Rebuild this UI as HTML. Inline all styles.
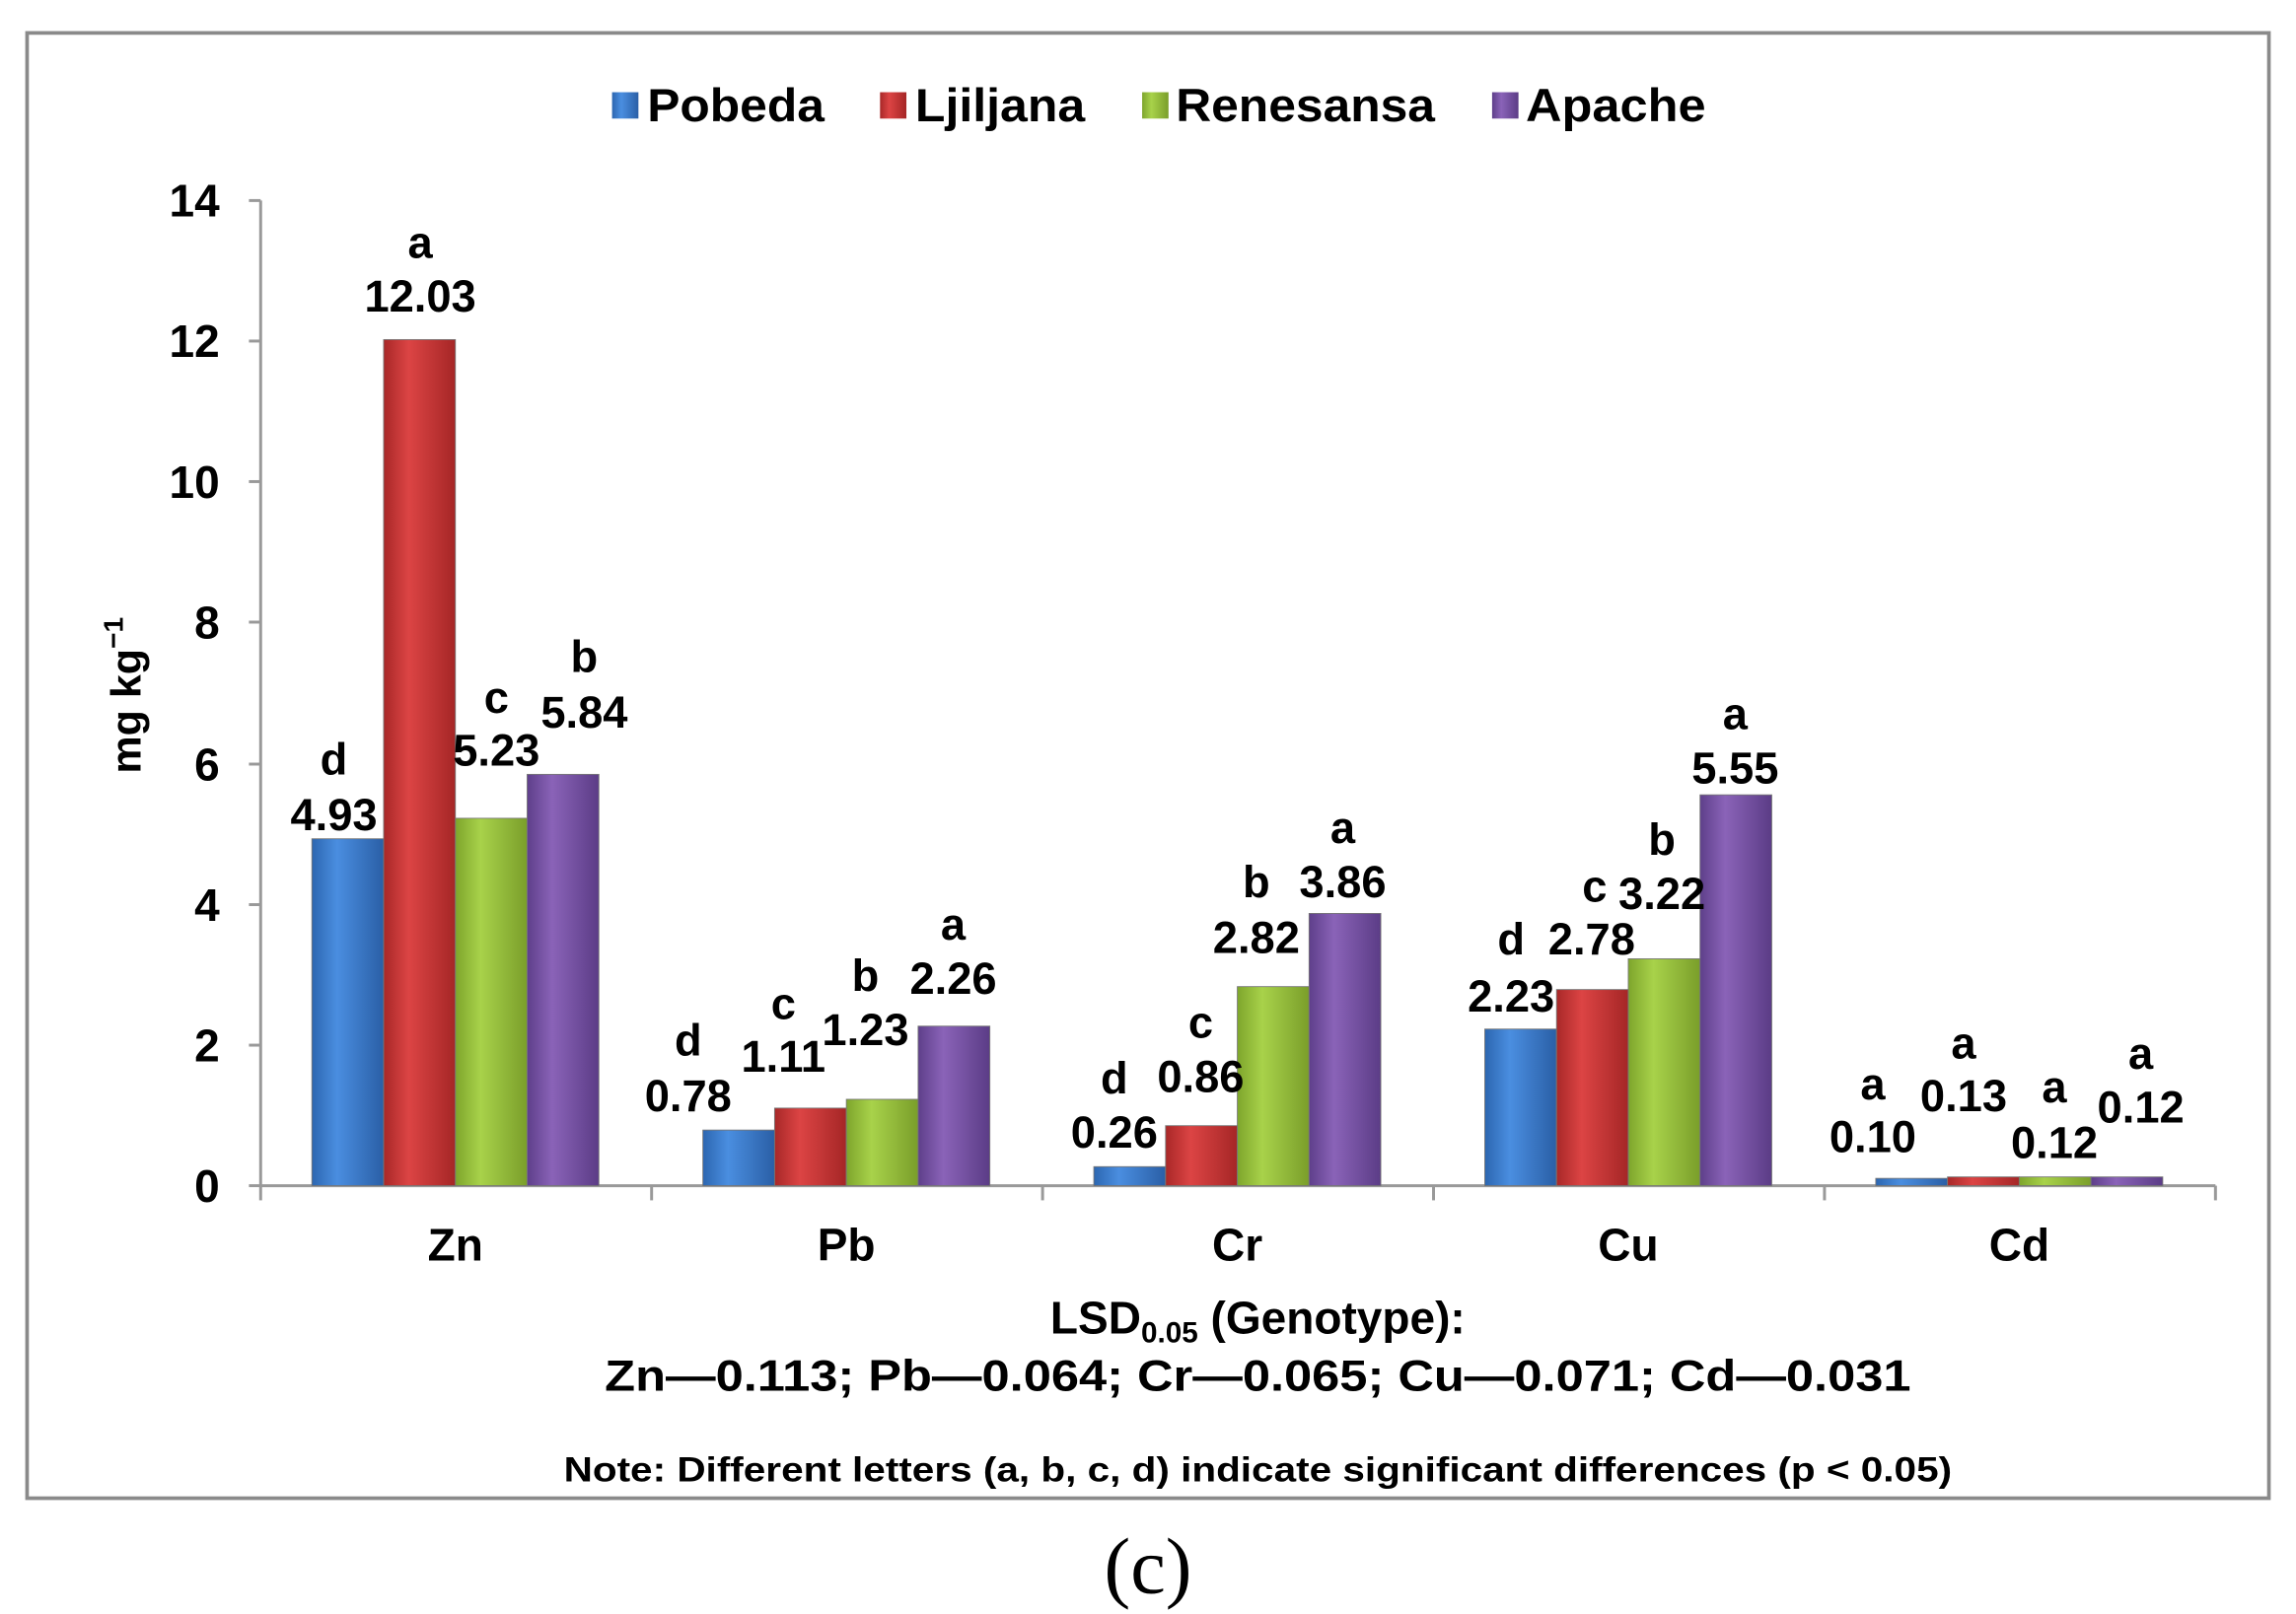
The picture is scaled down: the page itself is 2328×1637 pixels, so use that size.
<!DOCTYPE html>
<html><head><meta charset="utf-8"><style>html,body{margin:0;padding:0;background:#fff}svg{display:block}</style></head>
<body>
<svg width="2328" height="1637" viewBox="0 0 1568 1102.6" preserveAspectRatio="none" xmlns="http://www.w3.org/2000/svg" font-family="Liberation Sans, Arial, sans-serif" font-weight="bold">
<defs>
<linearGradient id="gb" x1="0" x2="1"><stop offset="0" stop-color="#2c66b0"/><stop offset="0.35" stop-color="#4a8ee0"/><stop offset="1" stop-color="#2a5fa6"/></linearGradient>
<linearGradient id="gr" x1="0" x2="1"><stop offset="0" stop-color="#a82828"/><stop offset="0.35" stop-color="#dc4444"/><stop offset="1" stop-color="#a52626"/></linearGradient>
<linearGradient id="gg" x1="0" x2="1"><stop offset="0" stop-color="#7ea52c"/><stop offset="0.35" stop-color="#a8d24a"/><stop offset="1" stop-color="#7a9e2a"/></linearGradient>
<linearGradient id="gp" x1="0" x2="1"><stop offset="0" stop-color="#5e3f8a"/><stop offset="0.35" stop-color="#8a63b8"/><stop offset="1" stop-color="#5b3c86"/></linearGradient>
</defs>
<rect x="18.5" y="22.5" width="1531" height="1001" fill="#fff" stroke="#8a8a8a" stroke-width="2.5"/>
<g font-size="32">
<rect x="418" y="63" width="18" height="18" fill="url(#gb)"/><text x="442" y="83" textLength="121" lengthAdjust="spacingAndGlyphs">Pobeda</text>
<rect x="601" y="63" width="18" height="18" fill="url(#gr)"/><text x="625" y="83" textLength="116" lengthAdjust="spacingAndGlyphs">Ljiljana</text>
<rect x="780" y="63" width="18" height="18" fill="url(#gg)"/><text x="803" y="83" textLength="177" lengthAdjust="spacingAndGlyphs">Renesansa</text>
<rect x="1019" y="63" width="18" height="18" fill="url(#gp)"/><text x="1042" y="83" textLength="123" lengthAdjust="spacingAndGlyphs">Apache</text>
</g>
<g stroke="#999" stroke-width="2">
<line x1="178" y1="137" x2="178" y2="810"/>
<line x1="178" y1="810" x2="1513" y2="810"/>
<line x1="170" y1="137" x2="178" y2="137"/><line x1="170" y1="233" x2="178" y2="233"/><line x1="170" y1="329" x2="178" y2="329"/><line x1="170" y1="425" x2="178" y2="425"/><line x1="170" y1="522" x2="178" y2="522"/><line x1="170" y1="618" x2="178" y2="618"/><line x1="170" y1="714" x2="178" y2="714"/><line x1="170" y1="810" x2="178" y2="810"/>
<line x1="178" y1="810" x2="178" y2="820"/><line x1="445" y1="810" x2="445" y2="820"/><line x1="712" y1="810" x2="712" y2="820"/><line x1="979" y1="810" x2="979" y2="820"/><line x1="1246" y1="810" x2="1246" y2="820"/><line x1="1513" y1="810" x2="1513" y2="820"/>
</g>
<g font-size="31" text-anchor="end">
<text x="150" y="148">14</text><text x="150" y="244">12</text><text x="150" y="340">10</text><text x="150" y="436">8</text><text x="150" y="533">6</text><text x="150" y="629">4</text><text x="150" y="725">2</text><text x="150" y="821">0</text>
</g>
<text transform="translate(96,475) rotate(-90)" font-size="29" text-anchor="middle">mg kg<tspan font-size="19" dy="-12">−1</tspan></text>
<g stroke="#777" stroke-width="0.6">
<rect x="213" y="573" width="49" height="237" fill="url(#gb)"/><rect x="262" y="232" width="49" height="578" fill="url(#gr)"/><rect x="311" y="559" width="49" height="251" fill="url(#gg)"/><rect x="360" y="529" width="49" height="281" fill="url(#gp)"/>
<rect x="480" y="772" width="49" height="38" fill="url(#gb)"/><rect x="529" y="757" width="49" height="53" fill="url(#gr)"/><rect x="578" y="751" width="49" height="59" fill="url(#gg)"/><rect x="627" y="701" width="49" height="109" fill="url(#gp)"/>
<rect x="747" y="797" width="49" height="13" fill="url(#gb)"/><rect x="796" y="769" width="49" height="41" fill="url(#gr)"/><rect x="845" y="674" width="49" height="136" fill="url(#gg)"/><rect x="894" y="624" width="49" height="186" fill="url(#gp)"/>
<rect x="1014" y="703" width="49" height="107" fill="url(#gb)"/><rect x="1063" y="676" width="49" height="134" fill="url(#gr)"/><rect x="1112" y="655" width="49" height="155" fill="url(#gg)"/><rect x="1161" y="543" width="49" height="267" fill="url(#gp)"/>
<rect x="1281" y="805" width="49" height="5" fill="url(#gb)"/><rect x="1330" y="804" width="49" height="6" fill="url(#gr)"/><rect x="1379" y="804" width="49" height="6" fill="url(#gg)"/><rect x="1428" y="804" width="49" height="6" fill="url(#gp)"/>
</g>
<g font-size="30.5" text-anchor="middle">
<text x="228" y="529">d</text><text x="228" y="567">4.93</text>
<text x="287" y="176">a</text><text x="287" y="213">12.03</text>
<text x="339" y="487">c</text><text x="339" y="523">5.23</text>
<text x="399" y="459">b</text><text x="399" y="497">5.84</text>
<text x="470" y="721">d</text><text x="470" y="759">0.78</text>
<text x="535" y="696">c</text><text x="535" y="732">1.11</text>
<text x="591" y="677">b</text><text x="591" y="714">1.23</text>
<text x="651" y="642">a</text><text x="651" y="679">2.26</text>
<text x="761" y="747">d</text><text x="761" y="784">0.26</text>
<text x="820" y="709">c</text><text x="820" y="746">0.86</text>
<text x="858" y="613">b</text><text x="858" y="651">2.82</text>
<text x="917" y="576">a</text><text x="917" y="613">3.86</text>
<text x="1032" y="652">d</text><text x="1032" y="691">2.23</text>
<text x="1089" y="616">c</text><text x="1087" y="652">2.78</text>
<text x="1135" y="584">b</text><text x="1135" y="621">3.22</text>
<text x="1185" y="498">a</text><text x="1185" y="535">5.55</text>
<text x="1279" y="751">a</text><text x="1279" y="787">0.10</text>
<text x="1341" y="723">a</text><text x="1341" y="759">0.13</text>
<text x="1403" y="753">a</text><text x="1403" y="791">0.12</text>
<text x="1462" y="730">a</text><text x="1462" y="767">0.12</text>
</g>
<g font-size="31" text-anchor="middle">
<text x="311" y="861">Zn</text><text x="578" y="861">Pb</text><text x="845" y="861">Cr</text><text x="1112" y="861">Cu</text><text x="1379" y="861">Cd</text>
</g>
<text x="859" y="911" font-size="31" text-anchor="middle">LSD<tspan font-size="20" dy="6">0.05</tspan><tspan dy="-6"> (Genotype):</tspan></text>
<text x="413" y="950" font-size="30" textLength="892" lengthAdjust="spacingAndGlyphs">Zn—0.113; Pb—0.064; Cr—0.065; Cu—0.071; Cd—0.031</text>
<text x="385" y="1012" font-size="24" textLength="948" lengthAdjust="spacingAndGlyphs">Note: Different  letters (a, b, c, d) indicate significant  differences  (p &lt; 0.05)</text>
<text x="784" y="1088" font-size="54" font-weight="normal" font-family="Liberation Serif, serif" text-anchor="middle">(c)</text>
</svg>
</body></html>
